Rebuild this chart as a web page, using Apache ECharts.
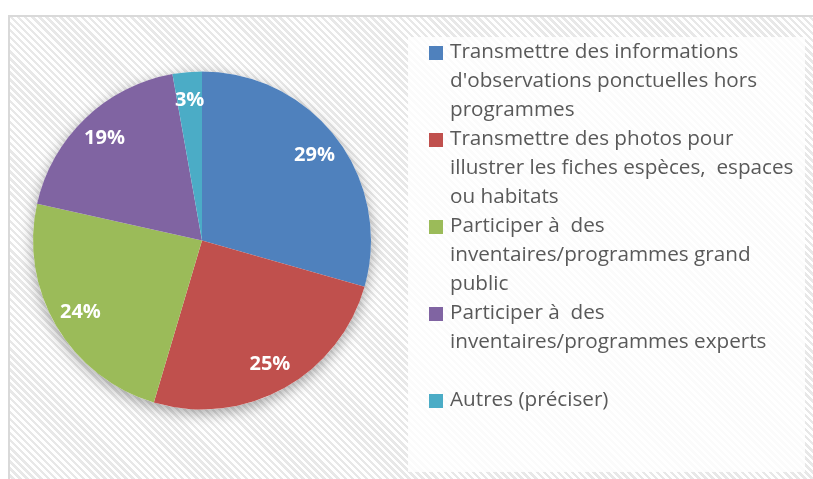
<!DOCTYPE html>
<html>
<head>
<meta charset="utf-8">
<script src="https://cdn.jsdelivr.net/npm/echarts@6/dist/echarts.min.js"></script>
<style>
  html, body { margin: 0; padding: 0; background: #ffffff; }
  #frame {
    position: absolute; left: 8px; top: 15px; width: 815px; height: 480px;
    box-sizing: border-box;
    border-left: 2px solid #d9d9d9; border-top: 2px solid #d9d9d9;
    background: repeating-linear-gradient(45deg, #ffffff 0px, #ffffff 2.5px, #e8e8e8 2.5px, #e8e8e8 5px);
  }
  #chart { position: absolute; left: 0; top: 0; width: 813px; height: 479px; }
</style>
</head>
<body>
<div id="frame"></div>
<div id="chart"></div>
<script>
// ---- data ----
const categories = [
  "Transmettre des informations\nd'observations ponctuelles hors\nprogrammes",
  "Transmettre des photos pour\nillustrer les fiches espèces,  espaces\nou habitats",
  "Participer à  des\ninventaires/programmes grand\npublic",
  "Participer à  des\ninventaires/programmes experts\n",
  "Autres (préciser)"
];
const values = [29.4, 25.2, 23.9, 18.7, 2.8];
const colors = ["#4F81BD", "#C0504D", "#9BBB59", "#8064A2", "#4BACC6"];

// ---- build ----
const chart = echarts.init(document.getElementById('chart'), null, { renderer: 'canvas' });
const pieData = categories.map((c, i) => ({ name: c, value: values[i], itemStyle: { color: colors[i] } }));

const center = [202, 240.5];
const R = 169;

// legend drawn as graphic (icon on first line of each wrapped entry)
const legendGraphics = [];
legendGraphics.push({
  type: 'rect', left: 408, top: 37, shape: { width: 397, height: 435 },
  style: { fill: 'rgba(255,255,255,0.8)' }, silent: true, z: 0
});
let lineIdx = 0;
const LH = 29;
categories.forEach((c, i) => {
  const top = 38 + lineIdx * LH;
  legendGraphics.push({
    type: 'rect', x: 429, y: top + 8, shape: { width: 14, height: 14 },
    style: { fill: colors[i] }, silent: true, z: 2
  });
  legendGraphics.push({
    type: 'text', x: 450, y: top,
    style: {
      text: c, fill: '#595959', font: '20.7px "Open Sans"',
      lineHeight: LH, verticalAlign: 'top', align: 'left'
    }, silent: true, z: 2
  });
  lineIdx += c.split('\n').length;
});

chart.setOption({
  animation: false,
  backgroundColor: 'transparent',
  graphic: legendGraphics,
  series: [
    {
      type: 'pie', center: center, radius: R, silent: true, z: 1,
      data: [{ value: 1, itemStyle: { color: '#ffffff', shadowBlur: 14, shadowOffsetY: 4, shadowColor: 'rgba(0,0,0,0.35)' } }],
      label: { show: false }, labelLine: { show: false }, emphasis: { disabled: true }
    },
    {
      type: 'pie', center: center, radius: R, z: 2,
      startAngle: 90, clockwise: true,
      data: pieData,
      label: { show: false }, labelLine: { show: false },
      emphasis: { disabled: true }
    },
    {
      type: 'pie', center: center, radius: [108, 168], z: 3, silent: true,
      startAngle: 90, clockwise: true,
      data: pieData.map(d => ({ name: d.name, value: d.value, itemStyle: { color: 'rgba(0,0,0,0)' } })),
      label: {
        show: true, position: 'inside', color: '#ffffff',
        fontFamily: 'Open Sans', fontWeight: 'bold', fontSize: 20,
        formatter: p => Math.round(p.percent) + '%'
      },
      labelLine: { show: false }, emphasis: { disabled: true }
    }
  ]
});
</script>
</body>
</html>
